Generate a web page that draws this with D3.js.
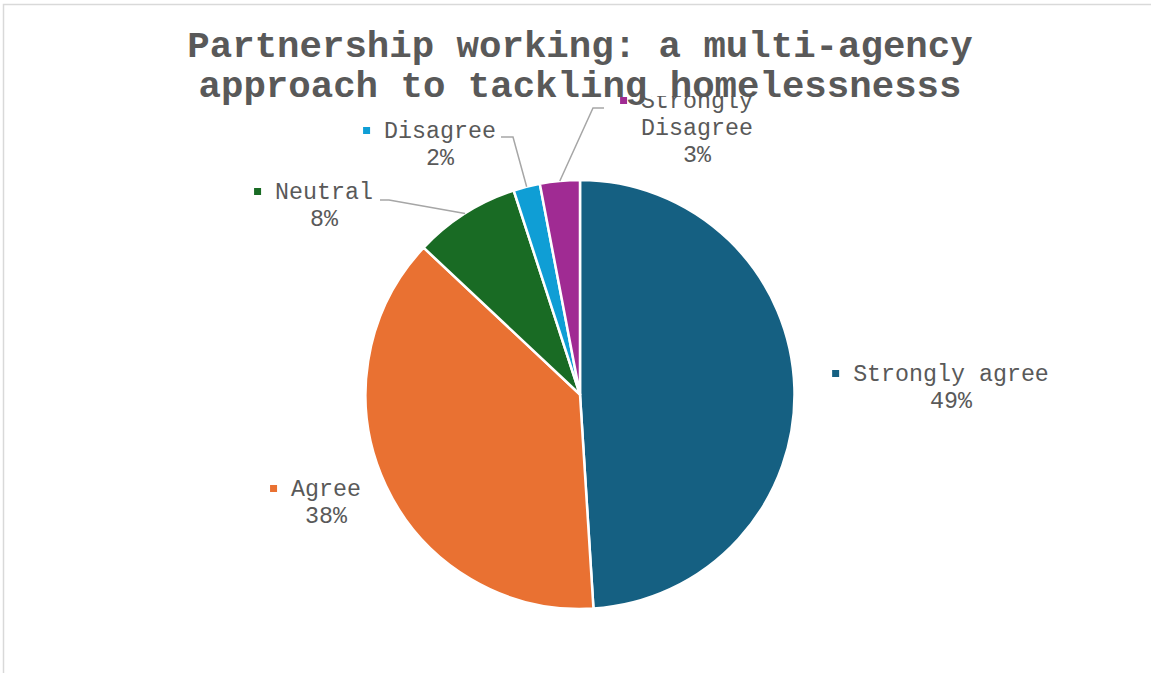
<!DOCTYPE html>
<html>
<head>
<meta charset="utf-8">
<script src="https://cdn.jsdelivr.net/npm/d3@7"></script>
<style>
  html, body { margin: 0; padding: 0; background: #fff; }
  svg { display: block; }
</style>
</head>
<body>
<svg id="chart" width="1151" height="673"></svg>
<script>
// ---- data ----
const titleLines = ["Partnership working: a multi-agency", "approach to tackling homelessnesss"];
const categories = ["Strongly agree", "Agree", "Neutral", "Disagree", "Strongly Disagree"];
const values = [49, 38, 8, 2, 3];
const colors = ["#156082", "#E97132", "#196B24", "#0F9ED5", "#A02B93"];

// ---- layout (positions of labels, not data) ----
const labelLayout = {
  "Strongly agree":    { cx: 951, y: 381, lines: ["Strongly agree"], leader: null },
  "Agree":             { cx: 326, y: 496, lines: ["Agree"], leader: null },
  "Neutral":           { cx: 324, y: 199, lines: ["Neutral"], leader: [[380, 200], [389, 200]] },
  "Disagree":          { cx: 440, y: 138, lines: ["Disagree"], leader: [[501, 137], [513, 137]] },
  "Strongly Disagree": { cx: 697, y: 108, lines: ["Strongly", "Disagree"], leader: [[604, 108], [593, 108]] }
};

const W = 1151, H = 673;
const cx = 580, cy = 394.5, R = 214.5;
const font = "'Liberation Mono', 'Courier New', monospace";
const textColor = "#595959";
const lineH = 27;

const svg = d3.select("#chart");

// chart border (extends past the right/bottom edge)
svg.append("rect")
  .attr("x", 3.5).attr("y", 4.5)
  .attr("width", W + 20).attr("height", H + 20)
  .attr("fill", "#fff").attr("stroke", "#d9d9d9").attr("stroke-width", 1.5);

const data = categories.map((c, i) => ({ cat: c, value: values[i], color: colors[i] }));
const total = d3.sum(values);
const pie = d3.pie().sort(null).value(d => d.value);
const arcs = pie(data);
const arc = d3.arc().innerRadius(0).outerRadius(R);

const g = svg.append("g").attr("transform", `translate(${cx},${cy})`);
g.selectAll("path.slice")
  .data(arcs)
  .join("path")
  .attr("class", "slice")
  .attr("d", arc)
  .attr("fill", d => d.data.color)
  .attr("stroke", "#fff")
  .attr("stroke-width", 2.5)
  .attr("stroke-linejoin", "round");

// leader lines
const edgeArc = d3.arc().innerRadius(R).outerRadius(R);
arcs.forEach(a => {
  const L = labelLayout[a.data.cat];
  if (!L.leader) return;
  const p = edgeArc.centroid(a);
  const pts = L.leader.concat([[p[0] + cx, p[1] + cy]]);
  svg.append("path")
    .attr("d", d3.line()(pts))
    .attr("fill", "none")
    .attr("stroke", "#a6a6a6")
    .attr("stroke-width", 1.5);
});

// data labels
const pct = d3.format(".0%");
const fontSize = 23.3;
arcs.forEach(a => {
  const L = labelLayout[a.data.cat];
  const lg = svg.append("g");
  const allLines = L.lines.concat([pct(a.data.value / total)]);
  const t = lg.append("text")
    .attr("font-family", font)
    .attr("font-size", fontSize)
    .attr("fill", textColor)
    .attr("text-anchor", "middle");
  allLines.forEach((ln, i) => {
    t.append("tspan").attr("x", L.cx).attr("y", L.y + i * lineH).text(ln);
  });
  // legend key square to the left of the first line
  const w = L.lines[0].length * fontSize * 0.6;
  lg.append("rect")
    .attr("x", L.cx - w / 2 - 21)
    .attr("y", L.y - 11)
    .attr("width", 7).attr("height", 7)
    .attr("fill", a.data.color);
});

// title (with white background, drawn on top)
const titleSize = 37.4;
svg.append("rect")
  .attr("x", 185).attr("y", 22).attr("width", 790).attr("height", 74)
  .attr("fill", "#fff");
const tt = svg.append("text")
  .attr("font-family", font)
  .attr("font-size", titleSize)
  .attr("font-weight", "bold")
  .attr("fill", textColor)
  .attr("text-anchor", "middle");
titleLines.forEach((ln, i) => {
  tt.append("tspan").attr("x", 580).attr("y", 57 + i * 40).text(ln);
});
</script>
</body>
</html>
